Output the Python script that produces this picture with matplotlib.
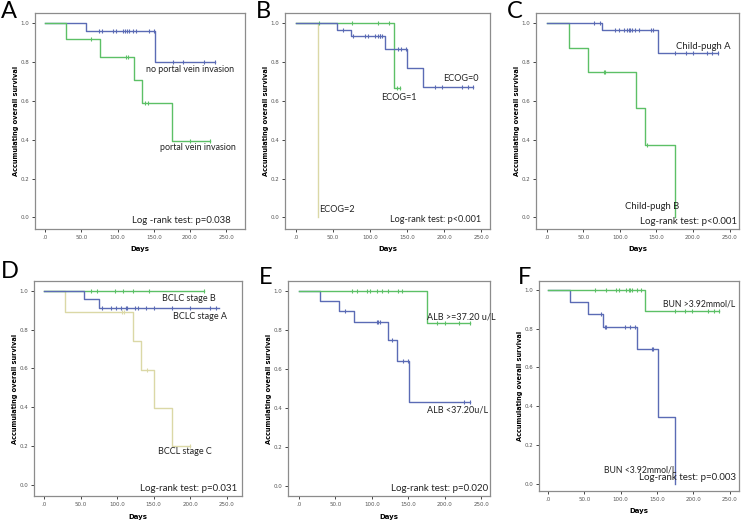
import numpy as np
import matplotlib.pyplot as plt

BLUE = '#5b6bb5'
GREEN = '#5cc066'
BEIGE = '#dbd8a6'

# ---- survival data: step times, survival levels, last follow-up, censored times ----
# A
a_no_t = [0, 56, 152]
a_no_s = [1.0, 0.96, 0.80]
a_no_end = 235
a_no_c = [74, 78, 94, 98, 107, 110, 113, 116, 121, 126, 144, 150, 176, 190, 220, 235]
a_pv_t = [0, 29, 76, 123, 134, 175]
a_pv_s = [1.0, 0.917, 0.825, 0.707, 0.59, 0.393]
a_pv_end = 227
a_pv_c = [64, 112, 115, 138, 142, 200, 227]

# B
b_e0_t = [0, 55, 74, 120, 150, 171]
b_e0_s = [1.0, 0.967, 0.933, 0.867, 0.77, 0.674]
b_e0_end = 239
b_e0_c = [64, 77, 93, 97, 106, 110, 113, 114, 116, 138, 142, 149, 188, 197, 224, 232, 239]
b_e1_t = [0, 132]
b_e1_s = [1.0, 0.667]
b_e1_end = 141
b_e1_c = [31, 76, 110, 126, 136, 141]
b_e2_t = [0, 29]
b_e2_s = [1.0, 0.0]
b_e2_end = 29
b_e2_c = []

# C
c_a_t = [0, 75, 152]
c_a_s = [1.0, 0.963, 0.845]
c_a_end = 234
c_a_c = [64, 73, 93, 98, 106, 110, 112, 114, 117, 121, 126, 142, 145, 175, 190, 200, 219, 226, 234]
c_b_t = [0, 30, 56, 122, 134, 175]
c_b_s = [1.0, 0.875, 0.75, 0.563, 0.375, 0.0]
c_b_end = 175
c_b_c = [78, 80, 137]

# D
d_b_t = [0]
d_b_s = [1.0]
d_b_end = 219
d_b_c = [64, 72, 97, 108, 121, 144, 219]
d_a_t = [0, 54, 75]
d_a_s = [1.0, 0.955, 0.91]
d_a_end = 239
d_a_c = [79, 92, 99, 105, 112, 114, 124, 129, 140, 150, 175, 200, 227, 235]
d_c_t = [0, 29, 122, 133, 150, 175]
d_c_s = [1.0, 0.888, 0.74, 0.593, 0.395, 0.198]
d_c_end = 200
d_c_c = [106, 109, 141, 200]

# E
e_hi_t = [0, 175]
e_hi_s = [1.0, 0.833]
e_hi_end = 234
e_hi_c = [73, 79, 93, 98, 107, 114, 122, 136, 142, 190, 200, 219, 234]
e_lo_t = [0, 29, 55, 76, 122, 134, 151]
e_lo_s = [1.0, 0.947, 0.895, 0.84, 0.745, 0.64, 0.427]
e_lo_end = 234
e_lo_c = [63, 107, 109, 111, 127, 143, 149, 226, 234]

# F
f_hi_t = [0, 134]
f_hi_s = [1.0, 0.889]
f_hi_end = 236
f_hi_c = [65, 80, 94, 98, 108, 111, 113, 116, 123, 128, 175, 189, 198, 221, 228, 236]
f_lo_t = [0, 30, 55, 76, 122, 151, 175]
f_lo_s = [1.0, 0.937, 0.875, 0.81, 0.694, 0.347, 0.0]
f_lo_end = 175
f_lo_c = [73, 78, 80, 106, 113, 120, 143, 145]

x_ticks = [0, 50, 100, 150, 200, 250]
x_labels = ['.0', '50.0', '100.0', '150.0', '200.0', '250.0']
y_ticks = [0.0, 0.2, 0.4, 0.6, 0.8, 1.0]
y_labels = ['0.0', '0.2', '0.4', '0.6', '0.8', '1.0']

W, H = 741, 520
fig = plt.figure(figsize=(W / 100, H / 100), dpi=100)

TXT = ['Lato', 'DejaVu Sans']


def draw_curve(ax, t, s, end, cens, color):
    xs = list(t) + [end]
    ys = list(s) + [s[-1]]
    ax.step(xs, ys, where='post', color=color, lw=1.0)
    if cens:
        idx = np.searchsorted(t, cens, side='right') - 1
        cy = np.array(s)[idx]
        ax.plot(cens, cy, ls='none', marker='|', ms=3.5, mew=0.8, color=color)


def make_panel(px, letter, lpos, xlim, ylim, curves, texts):
    l, r, top, bot = px
    ax = fig.add_axes([l / W, 1 - bot / H, (r - l) / W, (bot - top) / H])
    for c in curves:
        draw_curve(ax, *c)
    ax.set_xlim(*xlim)
    ax.set_ylim(*ylim)
    ax.set_xticks(x_ticks)
    ax.set_xticklabels(x_labels)
    ax.set_yticks(y_ticks)
    ax.set_yticklabels(y_labels)
    ax.tick_params(labelsize=4, labelcolor='#555555', length=2.5, width=0.7,
                   color='#444444', pad=1.5)
    for sp in ax.spines.values():
        sp.set_color('#8c8c8c')
        sp.set_linewidth(0.9)
    ax.set_xlabel('Days', fontsize=5, fontweight='bold', labelpad=5)
    ax.set_ylabel('Accumulating overall survival', fontsize=4.8, fontweight='bold',
                  labelpad=1.5)
    for (tx, ty, s, ha, fs) in texts:
        ax.text(tx, ty, s, ha=ha, va='center', fontsize=fs, family=TXT,
                color='#222222')
    fig.text(lpos[0] / W, 1 - lpos[1] / H, letter, fontsize=17, ha='left',
             va='center', family=TXT)
    return ax


make_panel((35, 245, 13, 229), 'A', (1, 12), (-14, 276), (-0.06, 1.053),
           [(a_no_t, a_no_s, a_no_end, a_no_c, BLUE),
            (a_pv_t, a_pv_s, a_pv_end, a_pv_c, GREEN)],
           [(139, 0.76, 'no portal vein invasion', 'left', 6.4),
            (159, 0.36, 'portal vein invasion', 'left', 6.4),
            (257, -0.014, 'Log -rank test: p=0.038', 'right', 6.9)])

make_panel((285, 490, 13, 229), 'B', (256, 12), (-15, 262), (-0.06, 1.053),
           [(b_e2_t, b_e2_s, b_e2_end, b_e2_c, BEIGE),
            (b_e1_t, b_e1_s, b_e1_end, b_e1_c, GREEN),
            (b_e0_t, b_e0_s, b_e0_end, b_e0_c, BLUE)],
           [(199, 0.716, 'ECOG=0', 'left', 6.6),
            (115, 0.62, 'ECOG=1', 'left', 6.6),
            (31, 0.038, 'ECOG=2', 'left', 6.6),
            (250, -0.01, 'Log-rank test: p<0.001', 'right', 6.6)])

make_panel((536, 739, 13, 229), 'C', (507, 12), (-15, 263), (-0.06, 1.053),
           [(c_b_t, c_b_s, c_b_end, c_b_c, GREEN),
            (c_a_t, c_a_s, c_a_end, c_a_c, BLUE)],
           [(177, 0.88, 'Child-pugh A', 'left', 6.8),
            (107, 0.055, 'Child-pugh B', 'left', 6.8),
            (260, -0.023, 'Log-rank test: p<0.001', 'right', 7)])

make_panel((34, 242, 281, 496), 'D', (1, 272), (-14, 271), (-0.058, 1.05),
           [(d_c_t, d_c_s, d_c_end, d_c_c, BEIGE),
            (d_b_t, d_b_s, d_b_end, d_b_c, GREEN),
            (d_a_t, d_a_s, d_a_end, d_a_c, BLUE)],
           [(162, 0.962, 'BCLC stage B', 'left', 6.5),
            (176, 0.868, 'BCLC stage A', 'left', 6.5),
            (156, 0.169, 'BCCL stage C', 'left', 6.5),
            (264, -0.017, 'Log-rank test: p=0.031', 'right', 7)])

make_panel((288, 490, 281, 496), 'E', (259, 277), (-15, 262), (-0.053, 1.05),
           [(e_lo_t, e_lo_s, e_lo_end, e_lo_c, BLUE),
            (e_hi_t, e_hi_s, e_hi_end, e_hi_c, GREEN)],
           [(176, 0.863, 'ALB >=37.20 u/L', 'left', 6.5),
            (175, 0.388, 'ALB <37.20u/L', 'left', 6.5),
            (259, -0.012, 'Log-rank test: p=0.020', 'right', 7)])

make_panel((539, 739, 281, 491), 'F', (518, 278), (-12.4, 263), (-0.036, 1.045),
           [(f_lo_t, f_lo_s, f_lo_end, f_lo_c, BLUE),
            (f_hi_t, f_hi_s, f_hi_end, f_hi_c, GREEN)],
           [(158, 0.928, 'BUN >3.92mmol/L', 'left', 6.2),
            (77, 0.074, 'BUN <3.92mmol/L', 'left', 6.2),
            (259, 0.031, 'Log-rank test: p=0.003', 'right', 7)])

fig.savefig('out.png', dpi=100)
